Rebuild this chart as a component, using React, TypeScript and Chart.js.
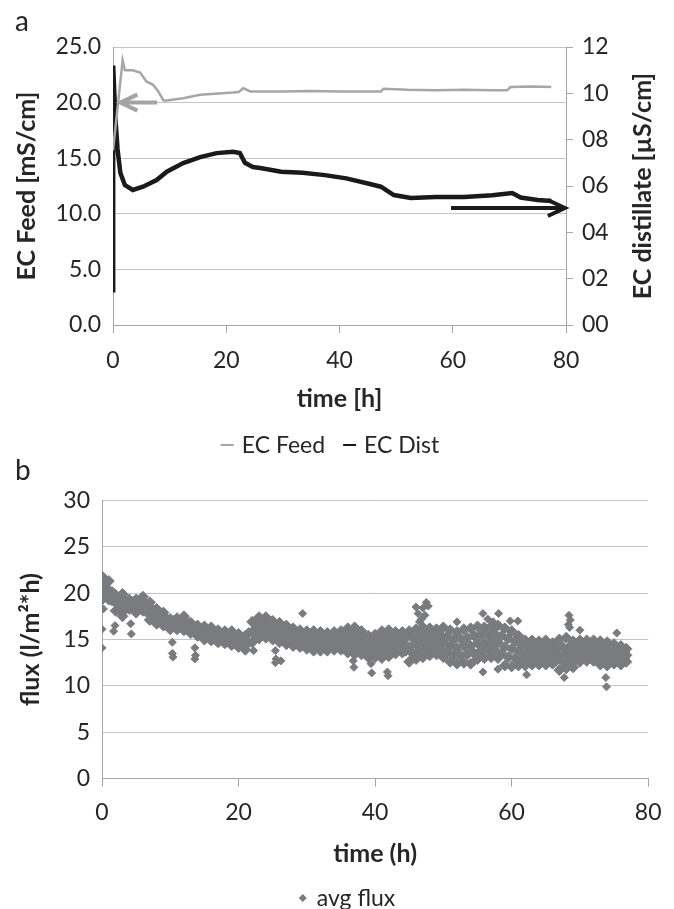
import React, { useEffect, useRef } from 'react';
import { Chart, registerables } from 'chart.js';

Chart.register(...registerables);

const FONT = 'Lato, "Open Sans", sans-serif';
const TEXT = '#262626';
const AXIS = '#a6a6a6';
const GRID = '#c4c4c4';
const FLUX_COLOR = '#7a7b7f';

// ---------- panel a: conductivity ----------
const feedTime = [0, 1.7, 2.1, 3.5, 4.8, 5.9, 7.1, 8.0, 8.9, 9.5, 12.4, 15.4, 18.0, 21.2, 22.2, 23.0, 24.2, 30, 35, 40, 45, 47.3, 47.8, 52, 57, 62, 67, 69.6, 70.2, 74, 77.4];
const feedValue = [15.7, 23.8, 22.9, 22.9, 22.7, 21.9, 21.6, 21.0, 20.2, 20.2, 20.4, 20.7, 20.8, 20.9, 20.95, 21.3, 21.0, 21.0, 21.05, 21.0, 21.0, 21.0, 21.25, 21.15, 21.1, 21.15, 21.1, 21.1, 21.4, 21.45, 21.4];

const distTime = [0, 0.03, 0.4, 0.8, 1.3, 2.1, 3.5, 5.3, 7.7, 9.5, 12.4, 15.4, 18.3, 21.2, 22.4, 23.3, 24.7, 26, 29.7, 33.5, 37.4, 41.2, 45, 47.3, 49.6, 52.6, 57, 62, 67, 70.5, 72, 75, 77.4];
const distValue = [1.5, 11.2, 9.0, 7.6, 6.56, 6.04, 5.83, 5.97, 6.26, 6.62, 6.99, 7.25, 7.42, 7.48, 7.42, 7.0, 6.82, 6.78, 6.62, 6.57, 6.47, 6.33, 6.11, 5.97, 5.61, 5.48, 5.52, 5.52, 5.6, 5.7, 5.5, 5.4, 5.35];

const feedArrow = { from: 7.8, to: 1.3, level: 20 };   // left axis (mS/cm)
const distArrow = { from: 59.7, to: 79.8, level: 5.05 }; // right axis (µS/cm)

const titleFeed = 'EC Feed [mS/cm]';
const titleDist = 'EC distillate [µS/cm]';
const titleTimeA = 'time [h]';

// ---------- panel b: flux ----------
const fluxTime = [0, 1, 2, 3, 4, 5, 6, 7, 8, 9, 10, 11, 12, 13, 14, 15, 16, 17, 18, 19, 20, 21, 22, 23, 24, 25, 26, 27, 28, 29, 30, 31, 32, 33, 34, 35, 36, 37, 38, 39, 40, 41, 42, 43, 44, 45, 46, 47, 48, 49, 50, 51, 52, 53, 54, 55, 56, 57, 58, 59, 60, 61, 62, 63, 64, 65, 66, 67, 68, 69, 70, 71, 72, 73, 74, 75, 76, 76.8];
const fluxHigh = [21.8, 21.3, 19.8, 19.9, 19.3, 19.3, 19.6, 19.0, 18.3, 17.9, 17.2, 17.3, 17.5, 16.8, 16.5, 16.4, 16.3, 16.0, 15.9, 15.9, 15.6, 15.4, 16.9, 17.4, 17.4, 17.0, 16.8, 16.5, 16.2, 16.0, 15.9, 15.9, 15.8, 15.7, 15.8, 15.9, 16.2, 16.3, 15.9, 15.4, 15.5, 15.9, 16.0, 15.8, 15.8, 15.9, 16.1, 16.3, 16.2, 16.1, 16.3, 16.0, 15.8, 16.1, 16.2, 16.4, 16.3, 16.4, 16.5, 16.2, 15.9, 15.4, 14.9, 14.9, 14.8, 14.9, 14.6, 15.0, 15.2, 14.8, 14.9, 14.9, 14.9, 14.8, 14.7, 14.5, 14.3, 14.0];
const fluxMid = [20.5, 20.3, 19.0, 18.7, 18.8, 18.6, 18.8, 18.0, 17.5, 17.2, 16.6, 16.7, 16.7, 16.2, 15.9, 15.7, 15.6, 15.3, 15.2, 15.1, 14.9, 14.6, 15.8, 16.2, 16.3, 16.0, 15.7, 15.5, 15.2, 15.1, 14.9, 14.8, 14.8, 14.7, 14.8, 14.9, 14.9, 14.8, 14.6, 14.2, 14.3, 14.4, 14.6, 14.6, 14.7, 14.2, 14.5, 14.7, 14.8, 14.7, 14.7, 14.3, 14.1, 14.3, 14.3, 14.6, 14.6, 14.7, 14.7, 14.2, 14.0, 13.8, 13.5, 13.6, 13.5, 13.6, 13.5, 13.3, 13.5, 13.4, 13.7, 13.8, 13.8, 13.5, 13.4, 13.4, 13.3, 13.3];
const fluxLow = [19.3, 19.3, 18.1, 17.5, 18.3, 17.9, 18.1, 17.1, 16.7, 16.5, 16.1, 16.1, 16.0, 15.7, 15.4, 15.0, 14.9, 14.7, 14.6, 14.4, 14.2, 13.9, 14.7, 15.1, 15.2, 15.0, 14.7, 14.5, 14.3, 14.2, 14.0, 13.8, 13.8, 13.8, 13.9, 13.9, 13.6, 13.4, 13.4, 13.1, 13.1, 13.0, 13.2, 13.5, 13.6, 12.6, 12.9, 13.1, 13.3, 13.4, 13.1, 12.6, 12.4, 12.5, 12.4, 12.9, 13.0, 13.1, 13.0, 12.2, 12.1, 12.2, 12.2, 12.3, 12.3, 12.3, 12.4, 11.7, 11.9, 12.0, 12.6, 12.7, 12.7, 12.3, 12.2, 12.4, 12.3, 12.6];
const fluxHalfTime = [0.5, 1.5, 2.5, 3.5, 4.5, 5.5, 6.5, 7.5, 8.5, 9.5, 10.5, 11.5, 12.5, 13.5, 14.5, 15.5, 16.5, 17.5, 18.5, 19.5, 20.5, 21.5, 22.5, 23.5, 24.5, 25.5, 26.5, 27.5, 28.5, 29.5, 30.5, 31.5, 32.5, 33.5, 34.5, 35.5, 36.5, 37.5, 38.5, 39.5, 40.5, 41.5, 42.5, 43.5, 44.5, 45.5, 46.5, 47.5, 48.5, 49.5, 50.5, 51.5, 52.5, 53.5, 54.5, 55.5, 56.5, 57.5, 58.5, 59.5, 60.5, 61.5, 62.5, 63.5, 64.5, 65.5, 66.5, 67.5, 68.5, 69.5, 70.5, 71.5, 72.5, 73.5, 74.5, 75.5, 76.5];
const fluxUpperHalf = [21.0, 20.1, 19.4, 19.2, 19.0, 19.1, 18.8, 18.2, 17.7, 17.2, 17.0, 17.0, 16.8, 16.4, 16.1, 16.0, 15.8, 15.6, 15.5, 15.4, 15.1, 15.7, 16.6, 16.8, 16.7, 16.4, 16.1, 15.8, 15.6, 15.5, 15.4, 15.3, 15.2, 15.3, 15.4, 15.5, 15.6, 15.4, 15.0, 14.9, 15.0, 15.2, 15.3, 15.2, 15.2, 15.2, 15.4, 15.5, 15.4, 15.5, 15.3, 15.0, 15.1, 15.2, 15.4, 15.5, 15.5, 15.6, 15.4, 15.1, 14.8, 14.4, 14.2, 14.2, 14.2, 14.1, 14.1, 14.2, 14.2, 14.2, 14.3, 14.3, 14.2, 14.1, 14.0, 13.9, 13.7];
const fluxLowerHalf = [19.8, 19.2, 18.3, 18.3, 18.4, 18.3, 18.0, 17.3, 17.0, 16.6, 16.4, 16.4, 16.1, 15.8, 15.5, 15.3, 15.1, 15.0, 14.8, 14.6, 14.4, 14.7, 15.4, 15.7, 15.6, 15.3, 15.1, 14.9, 14.7, 14.5, 14.4, 14.3, 14.3, 14.3, 14.4, 14.3, 14.2, 14.0, 13.8, 13.7, 13.7, 13.8, 14.0, 14.1, 13.8, 13.5, 13.8, 14.0, 14.0, 14.0, 13.7, 13.3, 13.3, 13.4, 13.5, 13.8, 13.9, 13.9, 13.5, 13.1, 13.0, 12.9, 12.9, 12.9, 12.9, 12.9, 12.7, 12.6, 12.7, 12.9, 13.2, 13.2, 13.1, 12.8, 12.9, 12.8, 12.9];
const outlierTime = [0, 0, 0.2, 1.7, 1.9, 4.2, 4.3, 10.3, 10.3, 10.4, 13.6, 13.6, 13.7, 22.2, 25.4, 25.5, 25.4, 26.2, 29.4, 36.8, 36.9, 39.4, 39.5, 41.9, 41.8, 46.0, 46.3, 46.8, 47.0, 47.5, 47.8, 46.5, 47.3, 52.0, 55.8, 56.5, 58.1, 57.3, 59.8, 60.9, 55.8, 58.0, 62.2, 67.7, 68.4, 68.6, 68.3, 68.5, 73.8, 73.9, 75.4, 70.0];
const outlierValue = [16.1, 14.1, 18.3, 15.9, 16.5, 16.7, 15.6, 14.7, 13.5, 13.1, 14.1, 12.9, 13.3, 13.8, 13.8, 12.9, 12.5, 12.7, 17.8, 12.7, 12.0, 12.4, 11.4, 11.1, 11.5, 18.5, 17.8, 17.2, 18.4, 19.0, 18.6, 16.9, 17.6, 16.9, 17.8, 17.2, 17.8, 16.9, 17.0, 17.0, 11.5, 11.8, 11.2, 10.9, 17.6, 17.1, 16.6, 16.3, 10.9, 9.9, 15.7, 16.0];

const titleFlux = 'flux (l/m²*h)';
const titleTimeB = 'time (h)';

const tickFont = { family: FONT, size: 23 };
const titleFont = { family: FONT, size: 25, weight: 'bold' as const };

function arrowPlugin() {
  const draw = (ctx: CanvasRenderingContext2D, x1: number, x2: number, y: number, color: string) => {
    const dir = Math.sign(x2 - x1);
    ctx.save();
    ctx.strokeStyle = color;
    ctx.lineWidth = 4;
    ctx.beginPath();
    ctx.moveTo(x1, y);
    ctx.lineTo(x2 - dir * 2, y);
    ctx.stroke();
    ctx.beginPath();
    ctx.moveTo(x2 - dir * 17, y - 8);
    ctx.lineTo(x2, y);
    ctx.lineTo(x2 - dir * 17, y + 8);
    ctx.stroke();
    ctx.restore();
  };
  return {
    id: 'arrows',
    afterDatasetsDraw(chart: any) {
      const { x, y, y2 } = chart.scales;
      draw(chart.ctx, x.getPixelForValue(feedArrow.from), x.getPixelForValue(feedArrow.to), y.getPixelForValue(feedArrow.level), '#a3a3a3');
      draw(chart.ctx, x.getPixelForValue(distArrow.from), x.getPixelForValue(distArrow.to), y2.getPixelForValue(distArrow.level), '#1a1a1a');
    },
  };
}

function rightTitlePlugin(text: string, cx: number) {
  return {
    id: 'rightTitle',
    afterDraw(chart: any) {
      const ctx = chart.ctx;
      const ca = chart.chartArea;
      ctx.save();
      ctx.translate(cx, (ca.top + ca.bottom) / 2);
      ctx.rotate(-Math.PI / 2);
      ctx.font = `bold 25px ${FONT}`;
      ctx.fillStyle = TEXT;
      ctx.textAlign = 'center';
      ctx.textBaseline = 'middle';
      ctx.fillText(text, 0, 0);
      ctx.restore();
    },
  };
}

function legendPlugin(cx: number, cy: number, marker: 'line' | 'diamond', markerW: number, gap: number, itemGap: number) {
  return {
    id: 'customLegend',
    afterDraw(chart: any) {
      const ctx = chart.ctx;
      const items = chart.data.datasets
        .filter((d: any) => !d.hideInLegend)
        .map((d: any) => ({ text: d.label, color: d.legendColor }));
      ctx.save();
      ctx.font = `23px ${FONT}`;
      ctx.textBaseline = 'middle';
      ctx.textAlign = 'left';
      const widths = items.map((it: any) => markerW + gap + ctx.measureText(it.text).width);
      const total = widths.reduce((a: number, b: number) => a + b, 0) + itemGap * (items.length - 1);
      let x = cx - total / 2;
      items.forEach((it: any, i: number) => {
        if (marker === 'line') {
          ctx.strokeStyle = it.color;
          ctx.lineWidth = 2;
          ctx.beginPath();
          ctx.moveTo(x, cy);
          ctx.lineTo(x + markerW, cy);
          ctx.stroke();
        } else {
          const r = markerW / 2;
          const mx = x + r;
          ctx.fillStyle = it.color;
          ctx.beginPath();
          ctx.moveTo(mx, cy - r);
          ctx.lineTo(mx + r, cy);
          ctx.lineTo(mx, cy + r);
          ctx.lineTo(mx - r, cy);
          ctx.closePath();
          ctx.fill();
        }
        ctx.fillStyle = TEXT;
        ctx.fillText(it.text, x + markerW + gap, cy + 1);
        x += widths[i] + itemGap;
      });
      ctx.restore();
    },
  };
}

export default function App() {
  const refA = useRef<HTMLCanvasElement>(null);
  const refB = useRef<HTMLCanvasElement>(null);

  useEffect(() => {
    const chartA = new Chart(refA.current as HTMLCanvasElement, {
      type: 'line',
      data: {
        datasets: [
          {
            label: 'EC Feed',
            data: feedTime.map((t, i) => ({ x: t, y: feedValue[i] })),
            yAxisID: 'y',
            borderColor: '#a6a6a6',
            borderWidth: 2.5,
            pointRadius: 0,
            tension: 0,
            legendColor: '#a6a6a6',
          } as any,
          {
            label: 'EC Dist',
            data: distTime.map((t, i) => ({ x: t, y: distValue[i] })),
            yAxisID: 'y2',
            borderColor: '#1a1a1a',
            borderWidth: 4.5,
            pointRadius: 0,
            tension: 0,
            legendColor: '#1a1a1a',
          } as any,
        ],
      },
      options: {
        responsive: false,
        animation: false,
        layout: { padding: { top: 47, left: 0, right: 0, bottom: 55 } },
        scales: {
          x: {
            type: 'linear',
            min: 0,
            max: 80,
            ticks: { stepSize: 20, font: tickFont, color: TEXT, padding: 14, maxRotation: 0 },
            grid: { drawOnChartArea: false, drawTicks: true, tickLength: 8, color: AXIS },
            border: { color: AXIS },
            title: { display: true, text: titleTimeA, font: titleFont, color: TEXT, padding: { top: 0, bottom: 1.5 } },
            afterFit: (s: any) => { s.height = 90; },
          },
          y: {
            position: 'left',
            min: 0,
            max: 25,
            ticks: { stepSize: 5, font: tickFont, color: TEXT, padding: 12, callback: (v: any) => Number(v).toFixed(1) },
            grid: { drawTicks: false, color: GRID },
            border: { color: AXIS },
            title: { display: true, text: titleFeed, font: titleFont, color: TEXT, padding: { top: 12, bottom: 0 } },
            afterFit: (s: any) => { s.width = 113; },
          },
          y2: {
            position: 'right',
            min: 0,
            max: 12,
            ticks: { stepSize: 2, font: tickFont, color: TEXT, padding: 9, callback: (v: any) => String(v).padStart(2, '0') },
            grid: { drawOnChartArea: false, drawTicks: true, tickLength: 7, color: AXIS },
            border: { color: AXIS },
            afterFit: (s: any) => { s.width = 108; },
          },
        },
        plugins: { legend: { display: false }, tooltip: { enabled: false } },
      },
      plugins: [arrowPlugin(), rightTitlePlugin(titleDist, 643), legendPlugin(330, 445, 'line', 13, 8, 18)],
    });

    const bandPoints: { x: number; y: number }[] = [];
    fluxTime.forEach((t, i) => {
      bandPoints.push({ x: t, y: fluxHigh[i] });
      bandPoints.push({ x: t, y: fluxMid[i] });
      bandPoints.push({ x: t, y: fluxLow[i] });
    });
    fluxHalfTime.forEach((t, i) => {
      bandPoints.push({ x: t, y: fluxUpperHalf[i] });
      bandPoints.push({ x: t, y: fluxLowerHalf[i] });
    });
    const outlierPoints = outlierTime.map((t, i) => ({ x: t, y: outlierValue[i] }));

    const chartB = new Chart(refB.current as HTMLCanvasElement, {
      type: 'scatter',
      data: {
        datasets: [
          {
            label: 'avg flux',
            data: bandPoints,
            pointStyle: 'rectRot',
            pointRadius: 5.5,
            pointBackgroundColor: FLUX_COLOR,
            pointBorderColor: FLUX_COLOR,
            pointBorderWidth: 1,
            legendColor: FLUX_COLOR,
          } as any,
          {
            label: 'avg flux',
            data: outlierPoints,
            pointStyle: 'rectRot',
            pointRadius: 4,
            pointBackgroundColor: FLUX_COLOR,
            pointBorderColor: FLUX_COLOR,
            pointBorderWidth: 1,
            legendColor: FLUX_COLOR,
            hideInLegend: true,
          } as any,
        ],
      },
      options: {
        responsive: false,
        animation: false,
        layout: { padding: { top: 40.3, left: 0, right: 17, bottom: 40.3 } },
        scales: {
          x: {
            type: 'linear',
            min: 0,
            max: 80,
            ticks: { stepSize: 20, font: tickFont, color: TEXT, padding: 12.5, maxRotation: 0 },
            grid: { drawOnChartArea: false, drawTicks: true, tickLength: 8, color: AXIS },
            border: { color: AXIS },
            title: { display: true, text: titleTimeB, font: titleFont, color: TEXT, padding: { top: 0, bottom: 0 } },
            afterFit: (s: any) => { s.height = 90; },
          },
          y: {
            min: 0,
            max: 30,
            ticks: { stepSize: 5, font: tickFont, color: TEXT, padding: 12 },
            grid: { drawTicks: false, color: GRID },
            border: { color: AXIS },
            title: { display: true, text: titleFlux, font: titleFont, color: TEXT, padding: { top: 15.5, bottom: 0 } },
            afterFit: (s: any) => { s.width = 102; },
          },
        },
        plugins: { legend: { display: false }, tooltip: { enabled: false } },
      },
      plugins: [legendPlugin(347, 438, 'diamond', 8, 10, 0)],
    });

    return () => {
      chartA.destroy();
      chartB.destroy();
    };
  }, []);

  const letter: React.CSSProperties = {
    position: 'absolute',
    left: 15,
    fontFamily: FONT,
    fontSize: 28,
    lineHeight: '28px',
    color: TEXT,
  };

  return (
    <div style={{ position: 'absolute', left: 0, top: 0, width: 674, height: 909, overflow: 'hidden', background: '#fff' }}>
      <canvas ref={refA} width={674} height={470} style={{ position: 'absolute', left: 0, top: 0, width: 674, height: 470 }} />
      <canvas ref={refB} width={674} height={449} style={{ position: 'absolute', left: 0, top: 460, width: 674, height: 449 }} />
      <div style={{ ...letter, top: 6 }}>a</div>
      <div style={{ ...letter, top: 455 }}>b</div>
    </div>
  );
}
